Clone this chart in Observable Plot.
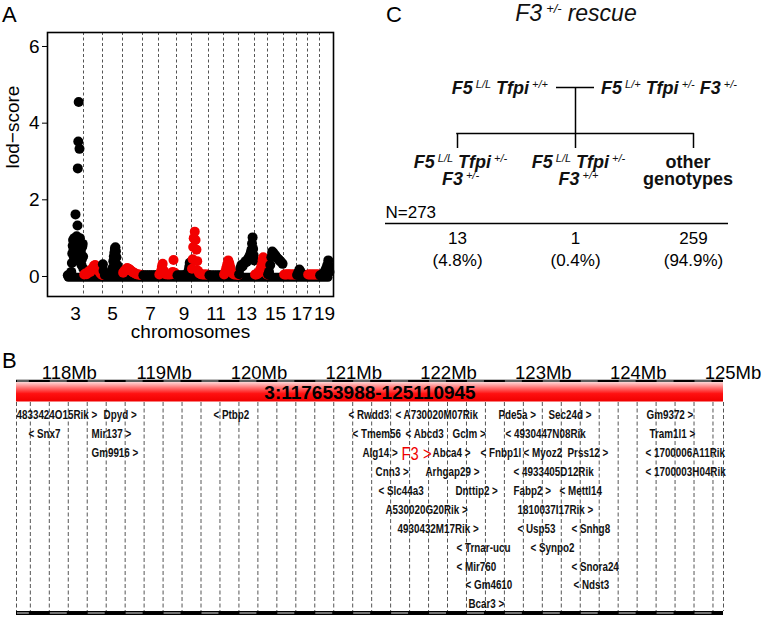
<!DOCTYPE html>
<html><head><meta charset="utf-8">
<script src="https://cdn.jsdelivr.net/npm/d3@7"></script>
<script src="https://cdn.jsdelivr.net/npm/@observablehq/plot@0.6"></script>
<style>
html,body{margin:0;padding:0;background:#fff;}
#root{position:relative;width:762px;height:617px;overflow:hidden;font-family:"Liberation Sans",Arial,sans-serif;}
#root > svg{position:absolute;}
</style></head><body><div id="root"></div>
<script>
// ---------------- Panel A data ----------------
const chromosomes = ["3","4","5","6","7","8","9","10","11","12","13","14","15","16","17","18","19"];
const chromLengthMb = [160.0,156.5,151.8,149.7,145.4,129.4,124.6,130.7,122.1,120.1,120.4,124.9,104.0,98.2,95.0,90.7,61.4];
const chromSpan = [16,19,20,20,16,18,15,17,15,15,16,13,16,13,11,12,10]; // plotted width (marker units)
const xTickChromosomes = ["3","5","7","9","11","13","15","17","19"];
const yTicksA = [0,2,4,6];
// [position Mb, lod-score]
const lodChr3 = [[3,0.03],[12,0.03],[21,0.03],[30,0.05],[38,0.12],[44,0.35],[48,0.6],[52,0.8],[56,0.95],[60,0.7],[64,0.5],[68,1.0],[72,0.9],[76,0.62],[80,1.62],[84,0.42],[88,0.85],[92,1.05],[96,0.75],[100,1.33],[103,2.82],[106,0.95],[108,3.52],[112,4.55],[116,0.88],[120,3.33],[124,1.0],[128,0.82],[132,0.65],[136,0.5],[140,0.3],[144,0.45],[148,0.78],[152,0.85],[156,0.52],[159,0.2]];
const lodChr4 = [[6,0.05],[16,0.08],[26,0.06],[36,0.1],[46,0.14],[56,0.12],[66,0.18],[76,0.22],[86,0.28],[96,0.3],[106,0.25],[116,0.2],[126,0.15],[136,0.1],[146,0.06],[154,0.04]];
const lodChr5 = [[3,0.32],[8,0.15],[18,0.04],[30,0.04],[42,0.05],[54,0.06],[66,0.1],[76,0.22],[82,0.4],[86,0.52],[90,0.62],[94,0.72],[98,0.76],[102,0.66],[106,0.5],[112,0.3],[120,0.12],[130,0.06],[140,0.04],[150,0.03]];
const lodChr6 = [[5,0.1],[15,0.15],[25,0.19],[35,0.22],[45,0.2],[55,0.18],[65,0.15],[75,0.12],[85,0.1],[95,0.08],[105,0.06],[115,0.05],[125,0.05],[135,0.04],[145,0.04]];
const lodChr7 = [[8,0.03],[26,0.03],[44,0.03],[62,0.03],[80,0.03],[98,0.03],[116,0.03],[134,0.03]];
const lodChr8 = [[6,0.05],[16,0.12],[24,0.25],[30,0.33],[38,0.15],[50,0.06],[64,0.05],[78,0.05],[92,0.06],[102,0.12],[108,0.43],[116,0.1],[126,0.05]];
const lodChr9 = [[8,0.03],[28,0.03],[48,0.03],[68,0.04],[88,0.06],[100,0.15],[106,0.25],[110,0.36],[115,0.2],[121,0.08]];
const lodChr10 = [[4,0.2],[9,0.45],[13,0.77],[17,1.0],[25,1.17],[31,0.95],[38,0.7],[44,0.4],[50,0.15],[60,0.08],[72,0.06],[84,0.05],[96,0.05],[108,0.05],[120,0.05],[128,0.04]];
const lodChr11 = [[8,0.03],[28,0.03],[48,0.03],[68,0.03],[88,0.03],[108,0.03]];
const lodChr12 = [[5,0.05],[14,0.12],[22,0.22],[30,0.32],[38,0.42],[46,0.35],[54,0.25],[62,0.15],[72,0.08],[84,0.05],[96,0.05],[108,0.05],[117,0.04]];
const lodChr13 = [[5,0.06],[14,0.22],[22,0.3],[30,0.26],[38,0.32],[46,0.36],[54,0.4],[62,0.38],[70,0.45],[78,0.5],[86,0.55],[92,0.62],[98,0.7],[102,0.86],[106,1.02],[110,0.72],[114,0.55],[118,0.42]];
const lodChr14 = [[5,0.05],[15,0.05],[25,0.06],[35,0.08],[45,0.12],[55,0.18],[65,0.25],[72,0.32],[78,0.42],[84,0.5],[90,0.4],[96,0.3],[104,0.18],[112,0.1],[120,0.05]];
const lodChr15 = [[4,0.05],[10,0.12],[18,0.3],[25,0.5],[31,0.65],[37,0.62],[44,0.58],[51,0.55],[58,0.5],[66,0.47],[74,0.44],[82,0.4],[90,0.37],[98,0.33]];
const lodChr16 = [[5,0.05],[15,0.05],[25,0.05],[35,0.06],[45,0.05],[55,0.05],[65,0.05],[75,0.05],[85,0.05],[95,0.05]];
const lodChr17 = [[5,0.04],[15,0.1],[25,0.18],[35,0.12],[45,0.05],[60,0.03],[75,0.03],[90,0.03]];
const lodChr18 = [[5,0.05],[15,0.05],[25,0.05],[35,0.05],[45,0.05],[55,0.05],[65,0.05],[75,0.05],[85,0.05]];
const lodChr19 = [[4,0.03],[12,0.04],[20,0.06],[28,0.1],[36,0.16],[42,0.22],[48,0.3],[54,0.42],[58,0.28],[61,0.12]];
const lodByChrom = [lodChr3,lodChr4,lodChr5,lodChr6,lodChr7,lodChr8,lodChr9,lodChr10,lodChr11,lodChr12,lodChr13,lodChr14,lodChr15,lodChr16,lodChr17,lodChr18,lodChr19];

// ---------------- Panel B data ----------------
const regionChr = "3";
const regionStart = 117653988, regionEnd = 125110945;
const majorTicksMb = [118,119,120,121,122,123,124,125];
const highlightGene = "F3";
// [gene, label start (Mb), row, strand]
const geneLabels = [
  ["4833424O15Rik",117.654,0,"+"],["Dpyd",118.572,0,"+"],["Ptbp2",119.732,0,"-"],["Rwdd3",121.156,0,"-"],
  ["A730020M07Rik",121.651,0,"-"],["Pde5a",122.738,0,"+"],["Sec24d",123.265,0,"+"],["Gm9372",124.299,0,"+"],
  ["Snx7",117.781,1,"-"],["Mir137",118.445,1,"+"],["Tmem56",121.198,1,"-"],["Abcd3",121.757,1,"-"],
  ["Gclm",122.253,1,"+"],["4930447N08Rik",122.812,1,"-"],["Tram1l1",124.331,1,"+"],
  ["Gm9916",118.445,2,"+"],["Alg14",121.303,2,"+"],["F3",121.715,2,"+"],["Abca4",122.042,2,"+"],
  ["Fnbp1l",122.548,2,"-"],["Myoz2",123.002,2,"-"],["Prss12",123.466,2,"+"],["1700006A11Rik",124.288,2,"-"],
  ["Cnn3",121.441,3,"+"],["Arhgap29",121.968,3,"+"],["4933405D12Rik",122.896,3,"-"],["1700003H04Rik",124.288,3,"-"],
  ["Slc44a3",121.472,4,"-"],["Dnttip2",122.284,4,"+"],["Fabp2",122.896,4,"+"],["Mettl14",123.381,4,"-"],
  ["A530020G20Rik",121.546,5,"+"],["1810037I17Rik",122.938,5,"+"],
  ["4930432M17Rik",121.673,6,"+"],["Usp53",122.938,6,"-"],["Snhg8",123.508,6,"-"],
  ["Trnar-ucu",122.295,7,"-"],["Synpo2",123.075,7,"-"],
  ["Mir760",122.295,8,"-"],["Snora24",123.508,8,"-"],
  ["Gm4610",122.390,9,"-"],["Ndst3",123.529,9,"-"],
  ["Bcar3",122.421,10,"+"]
];

// ---------------- Panel C data ----------------
const crossTitle = [["F3","+/-"],["rescue",null]];
const parentFemale = [["F5","L/L"],["Tfpi","+/+"]];
const parentMale = [["F5","L/+"],["Tfpi","+/-"],["F3","+/-"]];
const offspringIds = ["a","b","c"];
const offspringGenotypes = [
  [[["F5","L/L"],["Tfpi","+/-"]],[["F3","+/-"]]],
  [[["F5","L/L"],["Tfpi","+/-"]],[["F3","+/+"]]],
  null
];
const offspringPlain = [null,null,["other","genotypes"]];
const offspringCounts = [13,1,259];
const offspringPercent = ["4.8%","0.4%","94.9%"];
const totalN = 273;

// ---------------- helpers ----------------
const root = document.getElementById("root");
const FONT = '"Liberation Sans", Arial, sans-serif';
function place(svg, left, top){ svg.style.left = left+"px"; svg.style.top = top+"px"; root.appendChild(svg); return svg; }

// ================= Panel A =================
const chromStart = chromSpan.map((s,i)=> d3.sum(chromSpan.slice(0,i)));
const pointsA = chromosomes.flatMap((c,i)=> lodByChrom[i].map(([mb,lod])=>({chr:c, idx:i, x: chromStart[i] + mb/chromLengthMb[i]*chromSpan[i], lod})));
const boundaries = chromStart.slice(1);
const tickData = chromosomes.map((c,i)=>({c, x: chromStart[i]+chromSpan[i]/2})).filter(d=>xTickChromosomes.includes(d.c));
const totalSpan = d3.sum(chromSpan);

const plotA = Plot.plot({
  width: 345, height: 342,
  marginLeft: 47, marginRight: 12, marginTop: 32, marginBottom: 46,
  style: {fontFamily: FONT, fontSize: "19px", color: "#000", background: "transparent"},
  x: {domain: [-20, 266], axis: null},
  y: {domain: [-0.522, 6.365], ticks: yTicksA, tickFormat: d => String(d), tickSize: 5, tickPadding: 3, label: null},
  marks: [
    Plot.ruleX(boundaries, {stroke: "#555", strokeDasharray: "3,2.5", strokeWidth: 1}),
    Plot.ruleY([-0.02], {x1: 1.2, x2: totalSpan - 1, stroke: "#000", strokeWidth: 9, strokeLinecap: "round"}),
    Plot.dot(pointsA, {x: "x", y: "lod", r: 5, fill: d => d.idx % 2 ? "#f20000" : "#000", stroke: null}),
    Plot.frame({stroke: "#000", strokeWidth: 1.6}),
    Plot.text(tickData, {x: "x", text: "c", frameAnchor: "bottom", dy: 23, lineAnchor: "bottom", fontSize: 19}),
    Plot.text(["chromosomes"], {frameAnchor: "bottom", dy: 41, lineAnchor: "bottom", fontSize: 19}),
    Plot.text(["lod\u2212score"], {frameAnchor: "left", dx: -35, dy: 4, rotate: -90, fontSize: 19})
  ]
});
place(plotA, 0, 0);

// ================= Panel B =================
const rowTop = 75, rowStep = 18.9, heightB = 277;
const yr = px => (px - rowTop) / rowStep;
const startMb = regionStart/1e6, endMb = regionEnd/1e6;
const gridMb = [startMb, ...d3.range(117.8, 125.01, 0.2), endMb];
const segments = gridMb.slice(0,-1).map((a,i)=>({a, b: gridMb[i+1], gray: i % 2 === 0}));
const genes = geneLabels.map(([name, mb, row, strand]) => ({name, mb, row, label: strand === "+" ? `${name} >` : `< ${name}`}));

const plotB = Plot.plot({
  width: 762, height: heightB,
  marginLeft: 16, marginRight: 39, marginTop: 0, marginBottom: 0,
  style: {fontFamily: FONT, color: "#000", background: "transparent"},
  x: {domain: [startMb, endMb], axis: null},
  y: {domain: [yr(0), yr(heightB)], range: [0, heightB], axis: null},
  marks: [
    Plot.ruleX(gridMb, {y1: yr(62), y2: yr(271), stroke: "#555", strokeDasharray: "4,2.5", strokeWidth: 1}),
    // top axis
    Plot.ruleY([yr(380.5-340)], {x1: startMb, x2: endMb, stroke: "#000", strokeWidth: 2.5}),
    Plot.ruleY(segments.filter(d=>d.gray), {y: () => yr(380.5-340), x1: "a", x2: "b", stroke: "#bbb", strokeWidth: 1, insetLeft: 1, insetRight: 1}),
    Plot.text(majorTicksMb, {x: d => d, y: () => yr(38), text: d => `${d}Mb`, dx: 20, lineAnchor: "bottom", fontSize: 18.5}),
    // region bar
    Plot.rect([{a: startMb, b: endMb}], {x1: "a", x2: "b", y1: yr(42), y2: yr(61.5), fill: "url(#regionGrad)"}),
    Plot.text([`${regionChr}:${regionStart}-${regionEnd}`], {x: () => (startMb+endMb)/2, y: () => yr(52), fontWeight: "bold", fontSize: 19}),
    // gene labels
    Plot.text(genes.filter(d=>d.name !== highlightGene), {x: "mb", y: "row", text: "label", textAnchor: "start", fontSize: 12, fontWeight: "bold", fill: "#111"}),
    Plot.text(genes.filter(d=>d.name === highlightGene), {x: "mb", y: "row", text: "label", textAnchor: "start", fontSize: 18, fill: "#f00000", dy: 1}),
    // bottom axis
    Plot.ruleY([yr(272.5)], {x1: startMb, x2: endMb, stroke: "#000", strokeWidth: 4}),
    Plot.ruleY(segments.filter(d=>d.gray), {y: () => yr(272.5), x1: "a", x2: "b", stroke: "#999", strokeWidth: 1.5, insetLeft: 1, insetRight: 1})
  ]
});
{
  const svg = d3.select(plotB);
  const g = svg.insert("defs", ":first-child").append("linearGradient").attr("id","regionGrad").attr("x1",0).attr("x2",0).attr("y1",0).attr("y2",1);
  g.append("stop").attr("offset","0%").attr("stop-color","#ffd8d8");
  g.append("stop").attr("offset","30%").attr("stop-color","#ff7070");
  g.append("stop").attr("offset","60%").attr("stop-color","#ff1010");
  g.append("stop").attr("offset","100%").attr("stop-color","#f00000");
}
place(plotB, 0, 340);
// condensed (narrow) look of the gene labels
const geneLabelSet = new Set(genes.map(d => d.label));
plotB.querySelectorAll("text").forEach(t => {
  if (!geneLabelSet.has(t.textContent)) return;
  const w = t.getComputedTextLength();
  if (w > 0) {
    t.setAttribute("textLength", (w*0.82).toFixed(1));
    t.setAttribute("lengthAdjust", "spacingAndGlyphs");
  }
});

// ================= Panel C =================
const offspring = offspringIds.map((id,i)=>({id, count: offspringCounts[i], pct: offspringPercent[i]}));
const plotC = Plot.plot({
  width: 402, height: 330, margin: 0,
  style: {fontFamily: FONT, color: "#000", background: "transparent"},
  x: {type: "point", domain: offspringIds, range: [97, 333], padding: 0, axis: null},
  y: {domain: [0, 330], range: [0, 330], axis: null},
  marks: [
    Plot.ruleY([87], {x1: () => "b", x2: () => "b", insetLeft: -19, insetRight: -19, stroke: "#000", strokeWidth: 1.5}),
    Plot.ruleX(["b"], {x: d => d, y1: 87, y2: 133, stroke: "#000", strokeWidth: 1.5}),
    Plot.ruleY([133], {x1: () => "a", x2: () => "c", insetLeft: -0.75, insetRight: -0.75, stroke: "#000", strokeWidth: 1.5}),
    Plot.ruleX(offspring, {x: "id", y1: 133, y2: 148, stroke: "#000", strokeWidth: 1.5}),
    Plot.text([`N=${totalN}`], {x: () => "a", y: () => 217, dx: -72, textAnchor: "start", lineAnchor: "bottom", fontSize: 17}),
    Plot.ruleY([223], {x1: () => "a", x2: () => "c", insetLeft: -72, insetRight: -35, stroke: "#000", strokeWidth: 1.3}),
    Plot.text(offspring, {x: "id", y: () => 243, text: d => String(d.count), lineAnchor: "bottom", fontSize: 17}),
    Plot.text(offspring, {x: "id", y: () => 265, text: d => `(${d.pct})`, lineAnchor: "bottom", fontSize: 17})
  ]
});
place(plotC, 360, 0);
{
  const xs = plotC.scale("x");
  const svg = d3.select(plotC);
  function rich(x, y, anchor, parts, opt) {
    const t = svg.append("text").attr("x", x).attr("y", y).attr("text-anchor", anchor)
      .attr("font-family", FONT).attr("font-size", opt.size).attr("font-weight", opt.weight).attr("font-style", opt.style).attr("fill", "#111");
    let raised = false;
    parts.forEach(([g, sup], k) => {
      const s = t.append("tspan").attr("dx", k ? opt.gap : 0).text(g);
      if (raised) { s.attr("dy", opt.supRise); raised = false; }
      if (sup) {
        t.append("tspan").attr("dx", opt.supGap).attr("dy", -opt.supRise).attr("font-size", opt.supSize).attr("font-weight", "normal").text(sup);
        raised = true;
      }
    });
    return t;
  }
  const geno = {size: 18, weight: "bold", style: "italic", gap: 5, supGap: 3, supRise: 6, supSize: 11};
  const cx = xs.apply("b");
  rich(cx + 1, 21, "middle", crossTitle, {size: 23, weight: "normal", style: "italic", gap: 6, supGap: 4, supRise: 8, supSize: 13});
  rich(cx - 27, 93.5, "end", parentFemale, geno);
  rich(cx + 26, 93.5, "start", parentMale, geno);
  offspringIds.forEach((id, i) => {
    const x = xs.apply(id);
    if (offspringGenotypes[i]) {
      offspringGenotypes[i].forEach((line, j) => rich(x + 3.5, 168 + j*17, "middle", line, geno));
    } else {
      offspringPlain[i].forEach((w, j) => svg.append("text").attr("x", x - 5).attr("y", 168 + j*17).attr("text-anchor","middle")
        .attr("font-family", FONT).attr("font-size", 18).attr("font-weight","bold").attr("fill","#111").text(w));
    }
  });
}

// ================= Panel letters =================
const letters = d3.create("svg").attr("width", 762).attr("height", 617).style("pointer-events","none");
[["A",2,22],["B",2,368],["C",386,22]].forEach(([t,x,y]) => letters.append("text").attr("x",x).attr("y",y)
  .attr("font-family", FONT).attr("font-size", 22).attr("fill","#000").text(t));
place(letters.node(), 0, 0);
</script></body></html>
